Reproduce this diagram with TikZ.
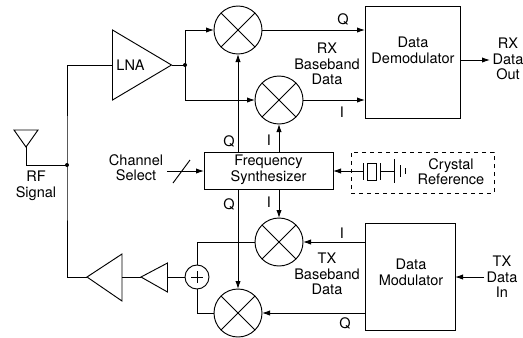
\documentclass[tikz,border=0pt]{standalone}
\usepackage{fontspec}
\setmainfont{TeX Gyre Heros}
\usetikzlibrary{arrows.meta,calc}
\tikzset{
  wire/.style={line width=.7pt},
  sig/.style={wire,-{Latex[length=6pt,width=4pt]}},
  mixer/.style={draw,wire,circle,minimum size=36pt,inner sep=0pt,outer sep=0pt},
  adder/.style={draw,wire,circle,minimum size=18pt,inner sep=0pt,outer sep=0pt},
  blockbox/.style={draw,wire,rectangle,inner sep=0pt,outer sep=0pt},
  lbl/.style={align=center,inner sep=0pt,font=\fontsize{10.9}{11.7}\selectfont},
}
\begin{document}
\begin{tikzpicture}[x=.75pt,y=-.75pt]
  \useasboundingbox (0,0) rectangle (523,337);
  \node[mixer] (mixq) at (238,30) {};
  \node[mixer] (mixi) at (279,100) {};
  \node[mixer] (mixti) at (279,242) {};
  \node[mixer] (mixtq) at (238,313) {};
  \foreach \m in {mixq,mixi,mixti,mixtq}
    \draw[wire] (\m.45)--(\m.225) (\m.135)--(\m.315);
  \node[blockbox,minimum width=96.75pt,minimum height=27.75pt] (synth) at (268.5,170.5) {};
  \node[blockbox,minimum width=71.25pt,minimum height=84pt] (demod) at (412.5,62) {};
  \node[blockbox,minimum width=67.5pt,minimum height=80.25pt] (mod) at (410,276.5) {};
  \node[draw,wire,dashed,rectangle,inner sep=0pt,outer sep=0pt,minimum width=107.25pt,minimum height=30.75pt] (xtalbox) at (422.5,172.5) {};
  \node[adder] (sum) at (197,277) {};
  \draw[wire] (191,277)--(203,277) (197,271)--(197,283);

  \coordinate (lnain) at (112.5,65);
  \coordinate (lnatip) at (171.5,65);
  \coordinate (lnaout) at (185,65);
  \coordinate (rfnode) at (67,165);
  \coordinate (antfoot) at (26,147);
  \coordinate (smallin) at (167.5,277);
  \coordinate (smalltip) at (141,277);
  \coordinate (bigin) at (122,277);
  \coordinate (bigtip) at (87,277);
  \coordinate (chanin) at (167,171);
  \coordinate (rxout) at (490,60);
  \coordinate (txin) at (484,277);
  \coordinate (platea) at (363,171);
  \coordinate (plateb) at (380,171);
  \coordinate (platec) at (394,171);

  \draw[wire] (lnain|-30,30)--(lnatip)--(lnain|-100,100)--cycle;
  \draw[wire] (smallin|-263,263)--(smalltip)--(smallin|-292,292)--cycle;
  \draw[wire] (bigin|-254,254)--(bigtip)--(bigin|-301,301)--cycle;
  \draw[wire] (14,130)--(38,130)--(antfoot)--cycle;

  \draw[wire] (antfoot)--(antfoot|-rfnode)--(rfnode);
  \draw[wire] (lnain)--(lnain-|rfnode)--(rfnode)--(rfnode|-bigtip)--(bigtip);
  \draw[wire] (lnatip)--(lnaout);
  \draw[sig] (lnaout)--(lnaout|-mixq)--(mixq.west);
  \draw[sig] (lnaout)--(lnaout|-mixi)--(mixi.west);
  \draw[sig] (mixq.south|-synth.north)--(mixq.south);
  \draw[sig] (mixi.south|-synth.north)--(mixi.south);
  \draw[sig] (mixti.north|-synth.south)--(mixti.north);
  \draw[sig] (mixtq.north|-synth.south)--(mixtq.north);
  \draw[sig] (mixq.east)--(mixq.east-|demod.west);
  \draw[sig] (mixi.east)--(mixi.east-|demod.west);
  \draw[sig] (demod.east|-rxout)--(rxout);
  \draw[sig] (mixti.east-|mod.west)--(mixti.east);
  \draw[sig] (mixtq.east-|mod.west)--(mixtq.east);
  \draw[sig] (txin)--(txin-|mod.east);
  \draw[wire] (mixti.west)--(mixti.west-|sum.north)--(sum.north);
  \draw[wire] (mixtq.west)--(mixtq.west-|sum.south)--(sum.south);
  \draw[wire] (sum.west)--(smallin);
  \draw[wire] (smalltip)--(bigin);
  \draw[sig] (chanin)--(chanin-|synth.west);
  \draw[wire] (173,183)--(190,160);

  \draw[sig] (platea)--(platea-|synth.east);
  \draw[wire] (363,163)--(363,180);
  \draw[wire] (367,163) rectangle (376,180);
  \draw[wire] (380,163)--(380,180);
  \draw[wire] (plateb)--(platec);
  \draw[wire] (394,159)--(394,183);
  \draw[wire] (400,165)--(400,177);
  \draw[wire] (405,168)--(405,174);

  \fill (lnaout) circle (1.5pt);
  \fill (rfnode) circle (1.5pt);

  \node[lbl] (lnatxt) at (130.5,65) {LNA};
  \node[lbl] (rftxt) at (36,185.5) {RF\\Signal};
  \node[lbl] (chantxt) at (136,167.5) {Channel\\Select};
  \node[lbl] (synthtxt) at (268.5,170) {Frequency\\Synthesizer};
  \node[lbl] (demodtxt) at (413,50.5) {Data\\Demodulator};
  \node[lbl] (modtxt) at (411,272.5) {Data\\Modulator};
  \node[lbl] (xtaltxt) at (451,171.5) {Crystal\\Reference};
  \node[lbl] (rxbase) at (327,64) {RX\\Baseband\\Data};
  \node[lbl] (txbase) at (327,274) {TX\\Baseband\\Data};
  \node[lbl] (rxouttxt) at (508,59) {RX\\Data\\Out};
  \node[lbl] (txintxt) at (502,277) {TX\\Data\\In};
  \node[lbl] (qa) at (229,141) {Q};
  \node[lbl] (qb) at (229,204) {Q};
  \node[lbl] (qc) at (343,19) {Q};
  \node[lbl] (qd) at (345,323) {Q};
  \node[lbl] (ia) at (269,140) {I};
  \node[lbl] (ib) at (269,202) {I};
  \node[lbl] (ic) at (342,112) {I};
  \node[lbl] (id) at (342,233) {I};
\end{tikzpicture}
\end{document}
